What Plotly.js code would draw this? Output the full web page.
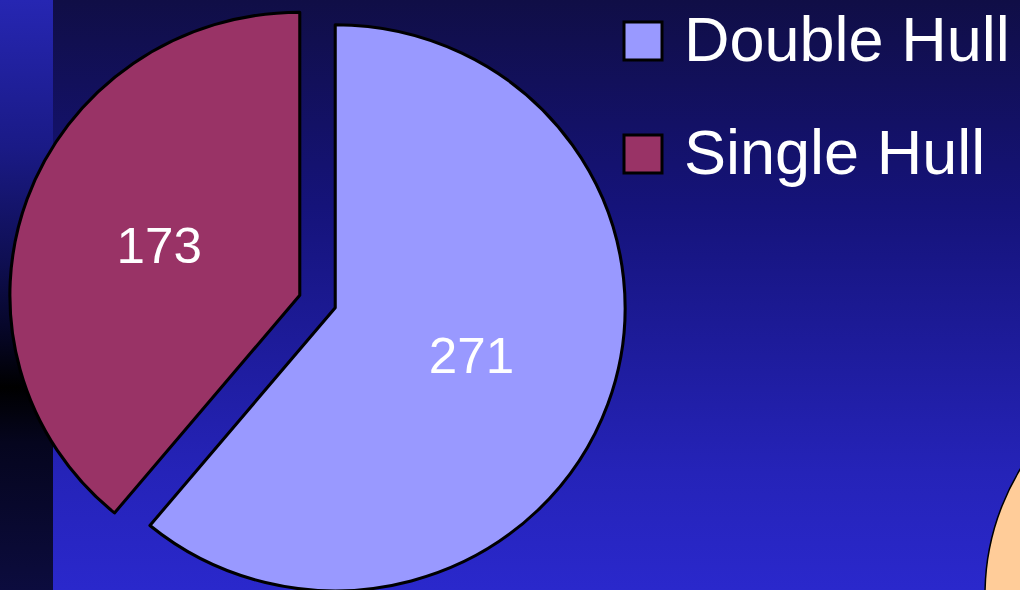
<!DOCTYPE html>
<html>
<head>
<meta charset="utf-8">
<script src="https://cdn.plot.ly/plotly-3.0.1.min.js"></script>
<style>
  html, body { margin: 0; padding: 0; width: 1020px; height: 590px; overflow: hidden; }
  body { background: linear-gradient(to bottom, #100e46 0%, #15137a 35%, #2523b8 80%, #2a28cc 100%); position: relative; font-family: "Liberation Sans", Arial, sans-serif; }
  #strip { position: absolute; left: 0; top: 0; width: 53px; height: 590px;
    background: linear-gradient(to bottom, #2626b2 0%, #1a1a86 25%, #0e0e50 45%, #050520 58%, #000000 65.6%, #05051e 75%, #0c0c3e 100%); }
  #chart { position: absolute; left: 0; top: 0; width: 1020px; height: 603px; }
  #chart .pielayer { transform-origin: 317.5px 301.5px; transform: scaleX(1.024); }
</style>
</head>
<body>
<div id="strip"></div>
<div id="chart"></div>
<script>
const categories = ["Double Hull", "Single Hull"];
const values = [271, 173];
const sliceColors = ["#9999FF", "#993366"];

const W = 1020, H = 603;
const px = x => x / W;
const py = y => 1 - y / H;

const shapes = [
  { type: "circle", xref: "paper", yref: "paper", layer: "below",
    x0: px(985), x1: px(1469), y0: py(837), y1: py(353),
    fillcolor: "#FFCC99", line: { color: "#000000", width: 1.5 } }
];
const annotations = [];
const legendTop = [22, 135];
categories.forEach((c, i) => {
  shapes.push({ type: "rect", xref: "paper", yref: "paper", layer: "above",
    x0: px(624), x1: px(662), y0: py(legendTop[i] + 38), y1: py(legendTop[i]),
    fillcolor: sliceColors[i], line: { color: "#000000", width: 3 } });
  annotations.push({ xref: "paper", yref: "paper", x: px(682), y: py(legendTop[i] + 17),
    xanchor: "left", yanchor: "middle", showarrow: false, text: c,
    font: { family: "Liberation Sans, Arial, sans-serif", size: 63, color: "#FFFFFF" } });
});

const trace = {
  type: "pie",
  labels: categories,
  values: values,
  sort: false,
  direction: "clockwise",
  rotation: 0,
  pull: [0.065, 0.065],
  marker: { colors: sliceColors, line: { color: "#000000", width: 3 } },
  textinfo: "value",
  textposition: "inside",
  insidetextorientation: "horizontal",
  textfont: { family: "Liberation Sans, Arial, sans-serif", size: 50, color: "#FFFFFF" },
  hoverinfo: "label+value",
  domain: { x: [0, 635 / W], y: [0, 1] }
};

const layout = {
  width: W, height: H,
  margin: { l: 0, r: 0, t: 0, b: 0, pad: 0 },
  paper_bgcolor: "rgba(0,0,0,0)",
  plot_bgcolor: "rgba(0,0,0,0)",
  showlegend: false,
  shapes: shapes,
  annotations: annotations
};

Plotly.newPlot("chart", [trace], layout, { displayModeBar: false, staticPlot: true });
</script>
</body>
</html>
